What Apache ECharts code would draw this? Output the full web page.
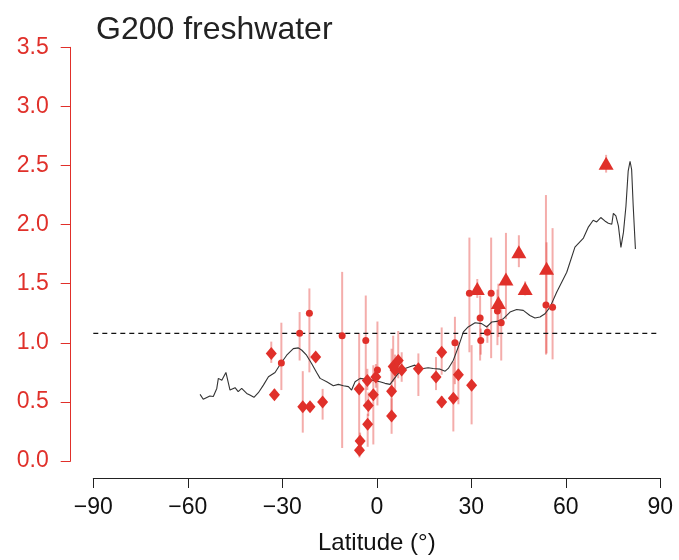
<!DOCTYPE html>
<html>
<head>
<meta charset="utf-8">
<script src="https://cdn.jsdelivr.net/npm/echarts@6/dist/echarts.min.js"></script>
<style>
html,body{margin:0;padding:0;background:#fff;}
#chart{width:679px;height:560px;}
</style>
</head>
<body>
<div id="chart"></div>
<script>
// Title and axis texts
const titleText = 'G200 freshwater';
const xAxisName = 'Latitude (°)';
const xTicks = [-90, -60, -30, 0, 30, 60, 90];
const yTicks = [0, 0.5, 1.0, 1.5, 2.0, 2.5, 3.0, 3.5];
const referenceLevel = 1.08;

// Smoothed curve
const curveLat = [-56.1,-55.1,-53.0,-51.9,-50.8,-50.3,-49.2,-47.9,-46.6,-45.0,-44.0,-42.9,-41.3,-40.3,-39.0,-37.6,-36.0,-34.4,-32.3,-30.7,-28.6,-26.5,-24.9,-23.8,-22.3,-20.7,-19.1,-18.0,-15.9,-13.8,-12.2,-10.6,-9.0,-8.0,-6.9,-5.3,-3.7,-1.6,1.0,2.6,4.2,5.2,6.8,9.0,10.5,12.1,13.2,14.8,16.3,17.9,20.1,21.7,22.7,24.3,25.9,27.5,29.0,31.2,33.3,34.9,36.5,38.1,40.2,42.3,44.4,46.5,48.6,50.2,51.8,53.4,55.0,57.1,60.3,62.9,65.6,67.1,68.7,69.8,71.1,72.4,73.5,74.6,75.1,75.9,76.7,77.2,77.5,78.3,79.1,79.8,80.4,80.9,81.4,82.1];
const curveVal = [0.564,0.522,0.550,0.545,0.614,0.699,0.684,0.749,0.600,0.620,0.587,0.614,0.572,0.558,0.539,0.578,0.642,0.713,0.749,0.816,0.895,0.951,0.957,0.937,0.895,0.825,0.749,0.699,0.671,0.637,0.648,0.637,0.629,0.600,0.671,0.699,0.693,0.684,0.671,0.657,0.648,0.684,0.741,0.783,0.797,0.811,0.783,0.783,0.789,0.783,0.777,0.760,0.783,0.853,0.966,1.092,1.134,1.170,1.162,1.134,1.176,1.181,1.204,1.260,1.282,1.274,1.231,1.210,1.218,1.246,1.302,1.428,1.597,1.810,1.886,1.976,2.037,2.023,2.060,2.031,2.012,2.003,2.096,2.073,1.989,1.877,1.807,1.934,2.157,2.452,2.536,2.466,2.157,1.793];

// Diamonds: latitude, value, low, high
const diamondLat = [-33.5,-32.5,-23.5,-21.2,-19.4,-17.2,-5.6,-5.3,-5.5,-3.0,-2.7,-2.9,-1.1,-0.3,4.7,4.7,5.2,6.8,5.8,7.9,13.2,18.8,20.6,20.6,24.3,25.9,30.1];
const diamondVal = [0.91,0.56,0.46,0.46,0.88,0.50,0.61,0.17,0.09,0.68,0.47,0.31,0.56,0.71,0.59,0.38,0.80,0.85,0.77,0.77,0.78,0.71,0.92,0.50,0.53,0.73,0.64];
const diamondLo  = [0.83,0.53,0.24,0.43,0.86,0.35,0.13,0.10,0.03,0.60,0.38,0.12,0.14,0.62,0.36,0.23,0.67,0.70,0.60,0.67,0.55,0.60,0.73,0.45,0.25,0.48,0.31];
const diamondHi  = [1.01,0.61,0.76,0.50,0.90,0.61,1.08,0.24,0.16,0.78,0.58,0.40,0.81,0.82,0.95,0.53,1.06,1.10,0.90,0.92,0.91,0.88,1.13,0.55,0.84,1.01,0.98];

// Circles
const circleLat = [-30.3,-24.5,-21.4,-11.0,-3.5,0.2,24.8,29.4,32.8,33.0,35.1,36.3,38.3,39.5,53.7,55.8];
const circleVal = [0.83,1.08,1.25,1.06,1.02,0.77,1.00,1.42,1.21,1.02,1.09,1.42,1.27,1.17,1.32,1.30];
const circleLo  = [0.60,0.85,0.75,0.11,0.47,0.47,0.65,0.92,0.85,0.90,1.00,0.87,0.98,0.85,0.90,0.86];
const circleHi  = [1.17,1.26,1.46,1.60,1.40,1.18,1.22,1.89,1.40,1.12,1.15,1.89,1.45,1.35,2.25,1.97];

// Triangles
const triLat = [31.9,38.6,41.0,45.1,47.1,53.9,72.8];
const triVal = [1.46,1.34,1.54,1.77,1.46,1.63,2.52];
const triLo  = [1.38,1.05,1.20,1.64,1.40,0.91,2.44];
const triHi  = [1.54,1.50,1.93,1.91,1.52,1.85,2.59];

const RED = '#e0302a';
const BAR = 'rgba(228,60,55,0.42)';
const FONT = 'Liberation Sans, Arial, Helvetica, sans-serif';

function zip2(a, b) { return a.map((v, i) => [v, b[i]]); }
function zip3(a, b, c) { return a.map((v, i) => [v, b[i], c[i]]); }

const barData = [].concat(
  zip3(diamondLat, diamondLo, diamondHi),
  zip3(circleLat, circleLo, circleHi),
  zip3(triLat, triLo, triHi)
);

const chart = echarts.init(document.getElementById('chart'), null, {renderer: 'canvas'});
chart.setOption({
  animation: false,
  backgroundColor: '#fff',
  title: {
    text: titleText, left: 91, top: 9,
    textStyle: {fontFamily: FONT, fontSize: 32, fontWeight: 'normal', color: '#222'}
  },
  grid: {left: 93.3, top: 47.3, width: 567, height: 415.7, containLabel: false},
  xAxis: {
    type: 'value', min: xTicks[0], max: xTicks[xTicks.length - 1], interval: 30,
    offset: 17,
    name: xAxisName, nameLocation: 'middle', nameGap: 53,
    nameTextStyle: {fontFamily: FONT, fontSize: 24, color: '#111'},
    axisLine: {show: true, onZero: false, lineStyle: {color: '#222', width: 1}},
    axisTick: {show: true, inside: false, length: 10, lineStyle: {color: '#222', width: 1}},
    axisLabel: {fontFamily: FONT, fontSize: 23, color: '#111', margin: 18,
      formatter: v => String(v).replace('-', '\u2212')},
    splitLine: {show: false}
  },
  yAxis: {
    type: 'value', min: yTicks[0], max: yTicks[yTicks.length - 1], interval: 0.5,
    offset: 22.6,
    axisLine: {show: true, onZero: false, lineStyle: {color: RED, width: 1}},
    axisTick: {show: true, inside: false, length: 10, lineStyle: {color: RED, width: 1}},
    axisLabel: {fontFamily: FONT, fontSize: 23, color: RED, margin: 22,
      formatter: v => v.toFixed(1)},
    splitLine: {show: false}
  },
  series: [
    {
      type: 'custom', z: 1, silent: true,
      data: barData,
      renderItem: function (params, api) {
        const p1 = api.coord([api.value(0), api.value(1)]);
        const p2 = api.coord([api.value(0), api.value(2)]);
        return {type: 'line', shape: {x1: p1[0], y1: p1[1], x2: p2[0], y2: p2[1]},
          style: {stroke: BAR, lineWidth: 2}};
      }
    },
    {
      type: 'line', z: 2, data: [[xTicks[0], referenceLevel], [xTicks[xTicks.length - 1], referenceLevel]],
      symbol: 'none', lineStyle: {color: '#111', width: 1.2, type: [5, 4]}
    },
    {
      type: 'line', z: 3, data: zip2(curveLat, curveVal), symbol: 'none',
      lineStyle: {color: '#333', width: 1.1}
    },
    {
      type: 'scatter', z: 4, data: zip2(diamondLat, diamondVal),
      symbol: 'diamond', symbolSize: [11, 13], itemStyle: {color: RED, opacity: 1}
    },
    {
      type: 'scatter', z: 4, data: zip2(circleLat, circleVal),
      symbol: 'circle', symbolSize: 7, itemStyle: {color: RED, opacity: 1}
    },
    {
      type: 'scatter', z: 4, data: zip2(triLat, triVal),
      symbol: 'triangle', symbolSize: [15, 13], itemStyle: {color: RED, opacity: 1}
    }
  ]
});
</script>
</body>
</html>
